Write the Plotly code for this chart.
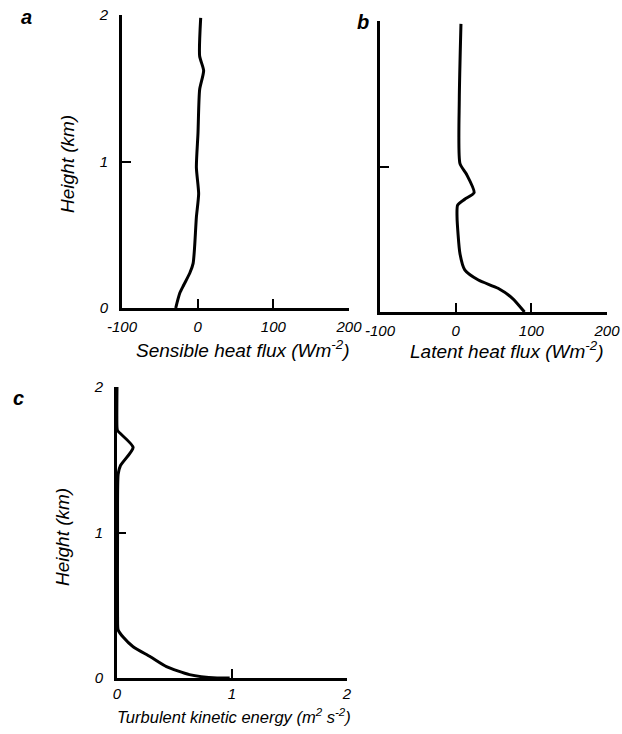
import plotly.graph_objects as go

# ---- data ----
sens_h = [0.0, 0.10, 0.157, 0.237, 0.305, 0.42, 0.62, 0.78, 0.96, 1.19, 1.49, 1.62, 1.72, 1.98]
sens_v = [-29, -23.7, -18.4, -10.5, -6, -4, -1.7, 1.3, -1.7, 0.4, 2.6, 7.9, 2.6, 4]

lat_h = [0.0, 0.094, 0.163, 0.22, 0.29, 0.40, 0.655, 0.735, 0.775, 0.82, 0.95, 1.02, 1.46, 1.98]
lat_v = [91, 75, 56, 30, 12, 5.7, 1.8, 2.6, 12, 24.4, 14, 5.7, 4.8, 7]

tke_h = [0.0, 0.0, 0.023, 0.078, 0.146, 0.215, 0.28, 0.33, 0.42, 1.0, 1.40, 1.46, 1.585, 1.70, 1.72, 2.0]
tke_v = [0.98, 0.87, 0.63, 0.43, 0.29, 0.14, 0.055, 0.01, 0.005, 0.005, 0.01, 0.03, 0.14, 0.005, 0.0, 0.0]

flux_ticks = [-100, 0, 100, 200]
flux_labels = ["-100", "0", "100", "200"]
tke_ticks = [0, 1, 2]
tke_labels = ["0", "1", "2"]
height_ticks = [0, 1, 2]
height_labels = ["0", "1", "2"]

W, H = 622, 734
FONT = "Liberation Sans, Arial, sans-serif"

def px(x):
    return x / W

def py(y):
    return 1 - y / H

fig = go.Figure()
line = dict(color="black", width=3, shape="spline", smoothing=0.6)
fig.add_trace(go.Scatter(x=sens_v, y=sens_h, mode="lines", line=line, xaxis="x", yaxis="y", showlegend=False))
fig.add_trace(go.Scatter(x=lat_v, y=lat_h, mode="lines", line=line, xaxis="x2", yaxis="y2", showlegend=False))
fig.add_trace(go.Scatter(x=tke_v, y=tke_h, mode="lines", line=line, xaxis="x3", yaxis="y3", showlegend=False))

tickfont = dict(family=FONT, size=15, color="black", style="italic")

def xax(domain, anchor, rng, ticks, labels, standoff=3):
    return dict(domain=domain, anchor=anchor, range=rng, tickvals=ticks, ticktext=labels,
                showgrid=False, zeroline=False, showline=True, linecolor="black", linewidth=3,
                ticks="inside", ticklen=9, tickwidth=2, tickcolor="black",
                tickfont=tickfont, ticklabelstandoff=standoff, automargin=False)

def yax(domain, anchor, show=True):
    return dict(domain=domain, anchor=anchor, range=[0, 2], tickvals=height_ticks, ticktext=height_labels,
                showticklabels=show,
                showgrid=False, zeroline=False, showline=True, linecolor="black", linewidth=3,
                ticks="inside", ticklen=9, tickwidth=2, tickcolor="black",
                tickfont=tickfont, ticklabelstandoff=8, automargin=False)

fig.update_layout(
    width=W, height=H, margin=dict(l=0, r=0, t=0, b=0),
    paper_bgcolor="white", plot_bgcolor="white",
    xaxis=xax([px(122), px(349)], "y", [-100, 200], flux_ticks, flux_labels),
    yaxis=yax([py(308), py(15)], "x"),
    xaxis2=xax([px(380), px(607)], "y2", [-100, 200], flux_ticks, flux_labels),
    yaxis2=yax([py(312), py(21)], "x2", show=False),
    xaxis3=xax([px(117), px(347)], "y3", [0, 2], tke_ticks, tke_labels, standoff=0),
    yaxis3=yax([py(678), py(387)], "x3"),
)

titlefont = dict(family=FONT, size=19, color="black", style="italic")
tkefont = dict(family=FONT, size=16.5, color="black", style="italic")
labfont = dict(family=FONT, size=20, color="black", style="italic", weight="bold")
annos = [
    dict(text="Sensible heat flux (Wm<sup>-2</sup>)", x=px(243), y=py(349), font=titlefont),
    dict(text="Latent heat flux (Wm<sup>-2</sup>)", x=px(506), y=py(350), font=titlefont),
    dict(text="Turbulent kinetic energy (m<sup>2</sup> s<sup>-2</sup>)", x=px(234), y=py(716), font=tkefont),
    dict(text="Height (km)", x=px(68), y=py(164), font=titlefont, textangle=-90),
    dict(text="Height (km)", x=px(62), y=py(537), font=titlefont, textangle=-90),
    dict(text="a", x=px(26), y=py(17), font=labfont),
    dict(text="b", x=px(363), y=py(22), font=labfont),
    dict(text="c", x=px(18), y=py(398), font=labfont),
]
for a in annos:
    a.update(xref="paper", yref="paper", showarrow=False, xanchor="center", yanchor="middle")
fig.update_layout(annotations=annos)

fig.write_html("out.html")
